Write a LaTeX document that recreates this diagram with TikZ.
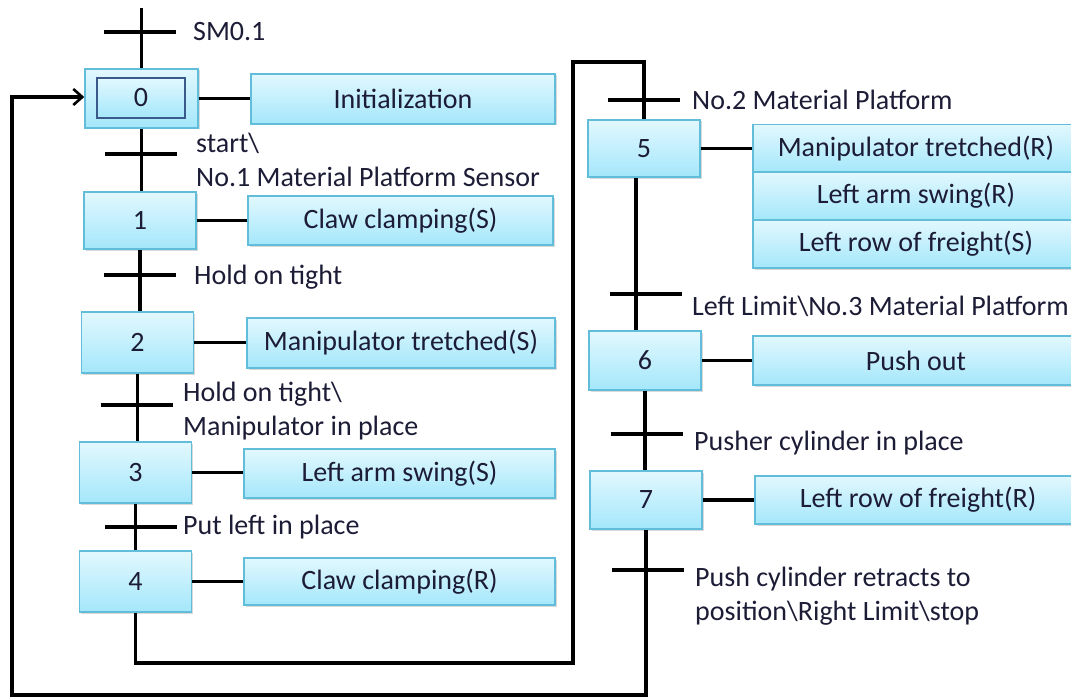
\documentclass[tikz,border=0pt]{standalone}
\usepackage{fontspec}
\setmainfont{Carlito}
\usetikzlibrary{shadows,arrows.meta}

\definecolor{boxtop}{HTML}{E2F8FE}
\definecolor{boxbot}{HTML}{A4E7FB}
\definecolor{boxline}{HTML}{62BDDA}
\definecolor{innerline}{HTML}{3A5A8C}
\definecolor{txt}{HTML}{1C1C36}

\begin{document}
\begin{tikzpicture}[x=1pt,y=-1pt,
  font=\fontsize{28}{34}\selectfont,
  stepbox/.style={draw=boxline, line width=1.5pt, top color=boxtop, bottom color=boxbot,
    text=txt, minimum width=112pt, minimum height=59pt, inner sep=0pt,
    drop shadow={shadow xshift=1.5pt, shadow yshift=-1.5pt, opacity=0.3, fill=gray}},
  actbox/.style={stepbox, minimum width=326pt, minimum height=50pt},
  link/.style={line width=3.2pt},
  trlabel/.style={anchor=west, inner sep=0pt, align=left, text=txt}]

  \useasboundingbox (0,0) rectangle (1071,698);
  \clip (0,0) rectangle (1071,698);

  % steps, left column
  \node[stepbox, minimum width=113pt] (s0) at (141.5,98.5) {};
  \node[draw=innerline, line width=2.6pt, top color=boxtop, bottom color=boxbot, text=txt,
    minimum width=88pt, minimum height=40pt, inner sep=0pt] (s0i) at (141,98) {0};
  \node[stepbox, minimum height=57pt] (s1) at (140,220.5) {1};
  \node[stepbox, minimum height=61pt] (s2) at (137.5,342.5) {2};
  \node[stepbox, minimum height=61pt] (s3) at (135.5,472.5) {3};
  \node[stepbox, minimum height=61pt] (s4) at (135.5,581.5) {4};

  % steps, right column
  \node[stepbox, minimum height=57pt] (s5) at (644,148.5) {5};
  \node[stepbox] (s6) at (645,360.5) {6};
  \node[stepbox, minimum height=58pt] (s7) at (646,500) {7};

  % actions
  \node[actbox, minimum width=304pt] (a0) at (403,99) {Initialization};
  \node[actbox, minimum width=305pt, minimum height=49pt] (a1) at (400.5,220.5) {Claw clamping(S)};
  \node[actbox, minimum width=308pt] (a2) at (401,343) {Manipulator tretched(S)};
  \node[actbox, minimum width=311pt, minimum height=49pt] (a3) at (399.5,473.5) {Left arm swing(S)};
  \node[actbox, minimum width=311pt, minimum height=47pt] (a4) at (399.5,581.5) {Claw clamping(R)};
  \node[actbox, minimum height=48pt] (a5) at (916,148.5) {Manipulator tretched(R)};
  \node[actbox, minimum height=48pt] (a5b) at (916,196) {Left arm swing(R)};
  \node[actbox, minimum height=48pt] (a5c) at (916,244) {Left row of freight(S)};
  \node[actbox, minimum height=49pt] (a6) at (916,360.5) {Push out};
  \node[actbox, minimum height=48pt] (a7) at (918,500) {Left row of freight(R)};

  \foreach \s/\a in {s0/a0,s1/a1,s2/a2,s3/a3,s4/a4,s5/a5,s6/a6,s7/a7}
    \draw[link] (\s.east) -- (\s.east -| \a.west);

  % transitions
  \coordinate (top) at (140,8);
  \coordinate (t0) at (140,32);
  \coordinate (t1) at (141,154);
  \coordinate (t2) at (139.5,275);
  \coordinate (t3) at (136.5,405);
  \coordinate (t4) at (140.5,527);
  \coordinate (t5) at (643.5,100);
  \coordinate (t6) at (646,294);
  \coordinate (t7) at (646.5,434);
  \coordinate (t8) at (647.5,570);
  \foreach \t in {t0,t1,t2,t3,t4,t5,t6,t7,t8}
    \draw[link] ([xshift=-36pt]\t) -- ([xshift=36pt]\t);

  \draw[link] (top -| s0.north) -- (s0.north);
  \draw[link] (s0.south) -- (s0.south |- s1.north);
  \draw[link] (s1.south) -- (s1.south |- s2.north);
  \draw[link] (s2.south) -- (s2.south |- s3.north);
  \draw[link] (s3.south) -- (s3.south |- s4.north);
  \draw[link] ([xshift=-8pt]s5.south) -- ([xshift=-8pt]s5.south |- s6.north);
  \draw[link] (s6.south) -- (s6.south |- s7.north);

  % loops
  \coordinate (lp1) at (573,663);
  \coordinate (lp2) at (573,62);
  \coordinate (lp3) at (12,695);
  \coordinate (lp4) at (12,97);
  \draw[link] (s4.south) |- (lp1) -- (lp2) -| (s5.north);
  \draw[link, -{Straight Barb[length=9pt,width=16pt,line width=2.6pt]}]
    (s7.south) |- (lp3) -- (lp4) -- (lp4 -| s0.west);

  % transition labels
  \node[trlabel] (l0) at (193,32) {SM0.1};
  \node[trlabel] (l1) at (196,160) {start\textbackslash\\No.1 Material Platform Sensor};
  \node[trlabel] (l2) at (194,277) {Hold on tight};
  \node[trlabel] (l3) at (183,411) {Hold on tight\textbackslash\\Manipulator in place};
  \node[trlabel] (l4) at (183,527) {Put left in place};
  \node[trlabel] (l5) at (692,100) {No.2 Material Platform};
  \node[trlabel] (l6) at (692,306) {Left Limit\textbackslash No.3 Material Platform};
  \node[trlabel] (l7) at (694,443) {Pusher cylinder in place};
  \node[trlabel] (l8) at (695,596) {Push cylinder retracts to\\position\textbackslash Right Limit\textbackslash stop};

\end{tikzpicture}
\end{document}
